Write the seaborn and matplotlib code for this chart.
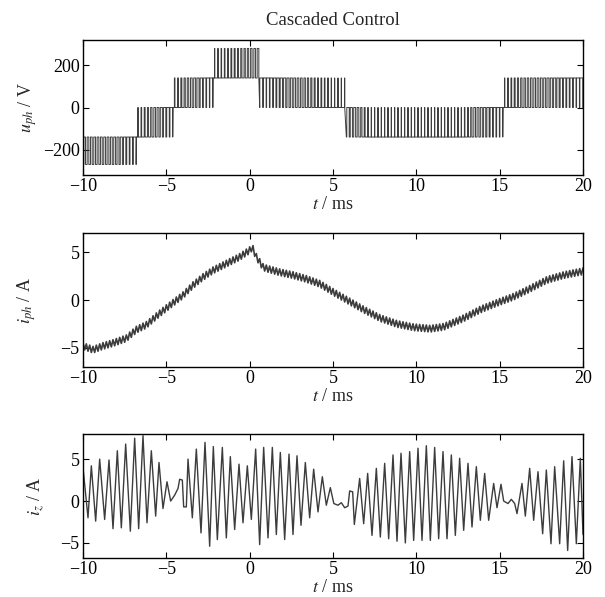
import numpy as np
import pandas as pd
import matplotlib
matplotlib.use("Agg")
import matplotlib.pyplot as plt
import seaborn as sns

# ---------------- data ----------------
# u_ph : PWM phase voltage, segments between two voltage levels
seg_t = [-10, -6.75, -4.55, -2.25, 0.5, 5.0, 5.7, 15.25, 20]
seg_lo = [-270, -140, 0, 140, 0, 0, -140, 0]
seg_hi = [-140, 0, 140, 280, 140, 140, 0, 140]
# fraction of each switching period spent at the upper level
duty_t = [-10, -8.0, -6.75, -6.75, -4.55, -4.55, -3.5, -2.25, -2.25, 0.5,
          0.5, 5.0, 5.0, 5.7, 5.7, 6.5, 7.2, 12.8, 13.5, 15.25, 15.25,
          16.3, 18.0, 20]
duty_v = [0.5, 0.55, 0.92, 0.1, 0.9, 0.15, 0.5, 0.92, 0.08, 0.5,
          0.95, 0.1, 0.04, 0.04, 0.8, 0.5, 0.1, 0.1, 0.5, 0.9, 0.1,
          0.4, 0.6, 0.9]
switch_period = 0.2  # ms

# i_ph : centre line of the phase current (A) and ripple half-amplitude
iph_t = [-10.0, -9.4, -8.8, -8.2, -7.4, -6.8, -6.2, -5.4, -4.6, -4.0, -3.4,
         -2.8, -2.2, -1.4, -0.6, 0.0, 0.16, 0.4, 0.8, 1.0, 1.8, 2.6, 3.4,
         4.2, 5.0, 5.84, 6.84, 7.84, 8.84, 9.84, 10.84, 11.64, 12.84, 13.84,
         14.84, 15.84, 16.84, 17.84, 18.84, 20.0]
iph_v = [-4.8, -5.2, -4.8, -4.5, -4.0, -3.1, -2.6, -1.4, -0.3, 0.5, 1.55,
         2.4, 3.1, 3.8, 4.5, 5.2, 5.5, 4.5, 3.45, 3.3, 2.9, 2.6, 2.2,
         1.7, 0.85, 0.0, -1.0, -1.9, -2.5, -2.85, -3.0, -2.8, -1.9, -1.0,
         -0.3, 0.35, 1.2, 2.1, 2.6, 3.0]
iph_ripple = 0.35

# i_z : extrema of the circulating current
iz_t = [-10.0, -9.70, -9.50, -9.24, -9.0, -8.70, -8.44, -8.2, -7.94, -7.7,
        -7.44, -7.16, -6.9, -6.66, -6.4, -6.16, -5.9, -5.64, -5.44, -5.2,
        -4.96, -4.74, -4.5, -4.3, -4.2, -4.04, -3.96, -3.8, -3.7, -3.44,
        -3.2, -2.92, -2.68, -2.4, -2.18, -1.94, -1.64, -1.4, -1.16, -0.9,
        -0.64, -0.4, -0.14, 0.1, 0.36, 0.6, 0.84, 1.1, 1.36, 1.6,
        1.84, 2.1, 2.36, 2.6, 2.84, 3.08, 3.34, 3.6, 3.84, 4.1,
        4.36, 4.6, 4.84, 5.05, 5.3, 5.5, 5.7, 5.9, 6.0, 6.18,
        6.28, 6.6, 6.84, 7.08, 7.34, 7.6, 7.84, 8.1, 8.34, 8.6,
        8.84, 9.08, 9.34, 9.6, 9.84, 10.1, 10.34, 10.6, 10.84, 11.1,
        11.34, 11.6, 11.84, 12.1, 12.34, 12.6, 12.84, 13.1, 13.34, 13.6,
        13.84, 14.1, 14.34, 14.64, 14.84, 15.08, 15.24, 15.5, 15.7, 15.9,
        16.04, 16.34, 16.54, 16.8, 17.04, 17.3, 17.58, 17.8, 18.08, 18.3,
        18.6, 18.84, 19.08, 19.34, 19.6, 19.84, 20.0]
iz_v = [4.0, -2.0, 4.2, -2.4, 5.0, -2.2, 4.9, -3.3, 6.0, -3.2,
        6.8, -3.6, 7.5, -3.3, 7.8, -2.6, 6.0, -1.8, 4.6, -0.9,
        2.3, 0.0, 0.7, 1.5, 2.6, 2.5, -0.7, -0.7, 5.0, -2.0,
        6.2, -3.8, 7.0, -5.4, 6.5, -4.6, 6.4, -4.4, 5.3, -3.4,
        4.4, -2.6, 4.2, -2.2, 6.2, -5.2, 6.4, -4.4, 6.4, -4.0,
        5.8, -4.6, 5.6, -4.0, 5.4, -2.9, 4.6, -2.0, 3.8, -1.3,
        2.9, -0.5, 1.6, -0.3, -0.5, -0.2, -0.8, -0.6, 1.2, 1.1,
        -2.8, 2.7, -2.7, 3.3, -4.1, 3.9, -4.3, 4.5, -4.5, 5.5,
        -4.8, 5.7, -5.0, 5.9, -4.7, 6.3, -4.7, 6.6, -4.7, 6.4,
        -4.5, 5.9, -4.5, 5.5, -4.1, 5.1, -3.5, 4.5, -3.1, 4.1,
        -2.3, 3.3, -2.3, 2.1, -0.8, 2.0, 0.0, -0.3, 0.2, -0.3,
        -1.5, 2.1, -1.8, 3.9, -2.3, 3.5, -3.9, 3.7, -5.1, 4.1,
        -5.1, 4.8, -5.9, 5.3, -5.1, 5.1, -4.0]

title = "Cascaded Control"
xticks = [-10, -5, 0, 5, 10, 15, 20]

# ---------------- build plotting tables ----------------
ut, uv = [], []
for t0 in np.arange(seg_t[0], seg_t[-1] - 1e-9, switch_period):
    tc = t0 + switch_period / 2
    s = min(np.searchsorted(seg_t, tc) - 1, len(seg_lo) - 1)
    lo, hi = seg_lo[s], seg_hi[s]
    d = float(np.interp(tc, duty_t, duty_v))
    ta = t0 + (1 - d) * switch_period / 2
    tb = t0 + (1 + d) * switch_period / 2
    ut += [t0, ta, ta, tb, tb]
    uv += [lo, lo, hi, hi, lo]
df_u = pd.DataFrame({"t": ut, "u": uv})

half = switch_period / 2
it = np.arange(-10, 20 + 1e-9, half)
centre = np.interp(it, iph_t, iph_v)
sign = np.where(np.arange(len(it)) % 2 == 0, 1.0, -1.0)
df_i = pd.DataFrame({"t": it, "i": centre + sign * iph_ripple})

df_z = pd.DataFrame({"t": iz_t, "i": iz_v})

# ---------------- styling ----------------
sns.set_theme(style="ticks")
plt.rcParams["font.family"] = ["Liberation Serif", "DejaVu Serif"]
plt.rcParams["mathtext.fontset"] = "stix"
plt.rcParams["font.size"] = 13
plt.rcParams["axes.linewidth"] = 1.0
plt.rcParams["axes.edgecolor"] = "black"

fig = plt.figure(figsize=(6.05, 5.97), dpi=100)
W, H = 605, 597
L, R = 83, 583
boxes = [(40, 175), (233, 367), (434, 558)]
axs = [fig.add_axes([L / W, 1 - b / H, (R - L) / W, (b - t) / H]) for t, b in boxes]

lc = "#3c3c3c"
sns.lineplot(data=df_u, x="t", y="u", ax=axs[0], color=lc, lw=0.7,
             estimator=None, sort=False)
sns.lineplot(data=df_i, x="t", y="i", ax=axs[1], color=lc, lw=1.2,
             estimator=None, sort=False)
sns.lineplot(data=df_z, x="t", y="i", ax=axs[2], color=lc, lw=1.0,
             estimator=None, sort=False)

ylims = [(-320, 320), (-7, 7), (-6.8, 8)]
yticks = [[-200, 0, 200], [-5, 0, 5], [-5, 0, 5]]
ylabels = [r"$u_{ph}$ / V", r"$i_{ph}$ / A", r"$i_{z}$ / A"]
ylab_x = [-0.088, -0.090, -0.072]
for ax, yl, yt, lab, lx in zip(axs, ylims, yticks, ylabels, ylab_x):
    ax.set_xlim(-10, 20)
    ax.set_ylim(*yl)
    ax.set_xticks(xticks)
    ax.set_yticks(yt)
    ax.set_xticklabels([f"{v}".replace("-", "\u2212") for v in xticks])
    ax.set_yticklabels([f"{v}".replace("-", "\u2212") for v in yt])
    ax.tick_params(direction="in", top=True, right=True, length=4,
                   width=0.8, labelsize=13, pad=2.5, colors="black")
    ax.set_xlabel(r"$t$ / ms", fontsize=13, labelpad=0.5)
    ax.set_ylabel(lab, fontsize=13)
    for sp in ax.spines.values():
        sp.set_visible(True)
        sp.set_color("black")
    ax.yaxis.set_label_coords(lx, 0.5)

axs[0].set_title(title, fontsize=13.5, pad=11)

fig.savefig("out.png", dpi=100)
